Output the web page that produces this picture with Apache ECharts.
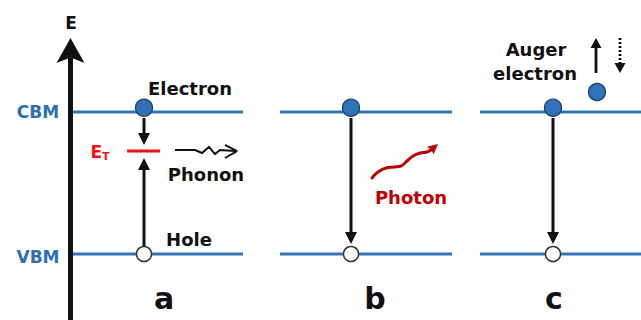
<!DOCTYPE html>
<html>
<head>
<meta charset="utf-8">
<script src="https://cdn.jsdelivr.net/npm/echarts@6/dist/echarts.min.js"></script>
<style>
  html, body { margin: 0; padding: 0; background: #ffffff; }
  #chart { width: 641px; height: 320px; }
</style>
</head>
<body>
<div id="chart"></div>
<script>
// Energies are in units of the band gap: VBM = 0, CBM = 1.
const VBM = 0;
const CBM = 1;
const trapLevel = 0.725;        // E_T, trap state inside the gap
const electronLevel = 1.03;     // electrons resting on the conduction band edge
const holeLevel = 0;            // holes sitting on the valence band edge

// Three recombination panels: a (trap-assisted), b (radiative), c (Auger)
const panelNames = ['a', 'b', 'c'];
const panelX = [144, 351, 553];
const bandSpans = [[72, 243], [280, 452], [480, 641]];
const trapSpan = [127, 160];

// Transitions: [x, from energy, to energy]
const transitions = [
  [144, 0.958, 0.768],   // a: electron captured by the trap
  [144, 0.056, 0.676],   // a: hole captured by the trap
  [351, 0.958, 0.070],   // b: band-to-band
  [553, 0.958, 0.070]    // c: band-to-band
];
const energyAxis = [70.5, -0.48, 1.521];
const augerElectron = [597, 1.141];
const augerUp = [596, 1.275, 1.521];
const augerDown = [620, 1.521, 1.275];

// Emitted phonon (zig-zag) and photon (wave)
const phononPath = [[175, 0.732], [195, 0.732], [202, 0.711], [209, 0.754], [215, 0.704], [220, 0.732], [235, 0.725]];
const phononHead = [[225, 0.768], [237, 0.725], [225, 0.676]];
const photonPath = [[372, 0.535], [378, 0.577], [386, 0.606], [394, 0.613], [401, 0.620], [407, 0.655], [413, 0.690], [420, 0.711], [427, 0.718], [432, 0.739]];
const photonTip = [438, 0.775];

// Text
const axisTitle = 'E';
const bandNames = ['CBM', 'VBM'];
const trapName = '{e|E}{t|T}';
const carrierLabels = ['Electron', 'Phonon', 'Hole', 'Auger', 'electron'];
const photonLabel = 'Photon';

// Anchors of the texts (x, energy)
const bandNameAt = [[38, 1.0], [38, -0.021]];
const carrierLabelAt = [[190, 1.162], [206, 0.563], [189, 0.099], [536, 1.437], [535, 1.268]];
const photonLabelAt = [411, 0.401];
const trapNameAt = [100, 0.715];
const axisTitleAt = [71, 1.627];
const panelLetterX = [164, 375, 554];
const panelLetterE = -0.314;

const BLUE = '#3475B8';
const BLUE_TEXT = '#2E6FB3';
const DARK_BLUE = '#1E4474';
const RED = '#F01010';
const DARK_RED = '#C00000';
const INK = '#111111';
const FONT = '"DejaVu Sans", sans-serif';

const arrowStyles = [
  { color: INK, width: 5, headLen: 25, headWidth: 28, notch: 0.22, dash: null },   // energy axis
  { color: INK, width: 3, headLen: 12, headWidth: 12, notch: 0, dash: null },       // transitions
  { color: INK, width: 2.8, headLen: 10, headWidth: 11, notch: 0, dash: null },     // auger solid
  { color: INK, width: 2.8, headLen: 10, headWidth: 11, notch: 0, dash: [2, 2] },   // auger dotted
  { color: DARK_RED, width: 3, headLen: 10, headWidth: 10, notch: 0.1, dash: null } // photon
];

const arrowData = [];
arrowData.push([energyAxis[0], energyAxis[1], energyAxis[0], energyAxis[2], 0]);
transitions.forEach(t => arrowData.push([t[0], t[1], t[0], t[2], 1]));
arrowData.push([augerUp[0], augerUp[1], augerUp[0], augerUp[2], 2]);
arrowData.push([augerDown[0], augerDown[1], augerDown[0], augerDown[2], 3]);
const lastWave = photonPath[photonPath.length - 1];
arrowData.push([lastWave[0], lastWave[1], photonTip[0], photonTip[1], 4]);

function renderArrow(params, api) {
  const a = api.coord([api.value(0), api.value(1)]);
  const b = api.coord([api.value(2), api.value(3)]);
  const st = arrowStyles[api.value(4)];
  const dx = b[0] - a[0], dy = b[1] - a[1];
  const len = Math.hypot(dx, dy) || 1;
  const ux = dx / len, uy = dy / len;
  const nx = -uy, ny = ux;
  const bx = b[0] - ux * st.headLen, by = b[1] - uy * st.headLen;
  const kx = b[0] - ux * st.headLen * (1 - st.notch), ky = b[1] - uy * st.headLen * (1 - st.notch);
  const hw = st.headWidth / 2;
  const shaftEnd = st.notch > 0 ? [kx, ky] : [bx + ux, by + uy];
  return {
    type: 'group',
    children: [
      {
        type: 'line',
        shape: { x1: a[0], y1: a[1], x2: shaftEnd[0], y2: shaftEnd[1] },
        style: { stroke: st.color, lineWidth: st.width, lineDash: st.dash, lineCap: 'butt' }
      },
      {
        type: 'polygon',
        shape: { points: [[b[0], b[1]], [bx + nx * hw, by + ny * hw], [kx, ky], [bx - nx * hw, by - ny * hw]] },
        style: { fill: st.color }
      }
    ]
  };
}

// Text items: [x, energy, text index]
const textItems = [];
const textStyles = [];
function addText(pos, text, style) {
  textItems.push([pos[0], pos[1], textStyles.length]);
  textStyles.push(Object.assign({ text: text }, style));
}
addText(axisTitleAt, axisTitle, { fill: INK, fontSize: 17, fontWeight: 'bold' });
bandNames.forEach((t, i) => addText(bandNameAt[i], t, { fill: BLUE_TEXT, fontSize: 17, fontWeight: 'bold' }));
carrierLabels.forEach((t, i) => addText(carrierLabelAt[i], t, { fill: INK, fontSize: 18, fontWeight: 'bold' }));
addText(photonLabelAt, photonLabel, { fill: DARK_RED, fontSize: 18, fontWeight: 'bold' });
addText(trapNameAt, trapName, {
  fill: RED, fontSize: 17, fontWeight: 'bold',
  rich: {
    e: { fill: RED, fontSize: 17, fontWeight: 'bold', fontFamily: FONT },
    t: { fill: RED, fontSize: 11, fontWeight: 'bold', fontFamily: FONT, padding: [9, 0, 0, 0] }
  }
});
panelNames.forEach((t, i) => addText([panelLetterX[i], panelLetterE], t, { fill: INK, fontSize: 30, fontWeight: 'bold' }));

function renderText(params, api) {
  const p = api.coord([api.value(0), api.value(1)]);
  const st = textStyles[api.value(2)];
  return {
    type: 'text',
    x: p[0],
    y: p[1],
    style: Object.assign({ fontFamily: FONT, align: 'center', verticalAlign: 'middle' }, st)
  };
}

const series = [];

// Band edges in each panel
bandSpans.forEach(span => {
  [CBM, VBM].forEach(level => {
    series.push({
      type: 'line', z: 1, clip: false, silent: true, showSymbol: false, symbol: 'none',
      data: [[span[0], level], [span[1], level]],
      lineStyle: { color: BLUE, width: 3 }
    });
  });
});

// Trap level
series.push({
  type: 'line', z: 1, clip: false, silent: true, symbol: 'none',
  data: [[trapSpan[0], trapLevel], [trapSpan[1], trapLevel]],
  lineStyle: { color: RED, width: 3 }
});

// Phonon zig-zag and its open head
series.push({
  type: 'line', z: 2, clip: false, silent: true, symbol: 'none',
  data: phononPath,
  lineStyle: { color: INK, width: 2, join: 'miter' }
});
series.push({
  type: 'line', z: 2, clip: false, silent: true, symbol: 'none',
  data: phononHead,
  lineStyle: { color: INK, width: 2 }
});

// Photon wave
series.push({
  type: 'line', z: 2, clip: false, silent: true, symbol: 'none', smooth: 0.5,
  data: photonPath,
  lineStyle: { color: DARK_RED, width: 3, cap: 'round' }
});

// Arrows
series.push({
  type: 'custom', z: 3, clip: false, silent: true,
  renderItem: renderArrow,
  encode: { x: [0, 2], y: [1, 3] },
  data: arrowData
});

// Electrons
series.push({
  type: 'scatter', z: 4, clip: false, silent: true,
  symbol: 'circle', symbolSize: 17,
  data: panelX.map(x => [x, electronLevel]).concat([augerElectron]),
  itemStyle: { color: '#2F72B8', borderColor: DARK_BLUE, borderWidth: 1.3, opacity: 1 }
});

// Holes
series.push({
  type: 'scatter', z: 4, clip: false, silent: true,
  symbol: 'circle', symbolSize: 15,
  data: panelX.map(x => [x, holeLevel]),
  itemStyle: { color: '#ffffff', borderColor: '#333333', borderWidth: 1.5, opacity: 1 }
});

// Labels
series.push({
  type: 'custom', z: 5, clip: false, silent: true,
  renderItem: renderText,
  encode: { x: 0, y: 1 },
  data: textItems
});

const chart = echarts.init(document.getElementById('chart'), null, { renderer: 'svg' });
chart.setOption({
  animation: false,
  backgroundColor: '#ffffff',
  grid: { left: 0, right: 0, top: 12.6, bottom: 9.2 },
  xAxis: { type: 'value', min: 0, max: 641, show: false },
  yAxis: { type: 'value', min: -0.4, max: 1.7, show: false },
  tooltip: { show: false },
  series: series
});
</script>
</body>
</html>
